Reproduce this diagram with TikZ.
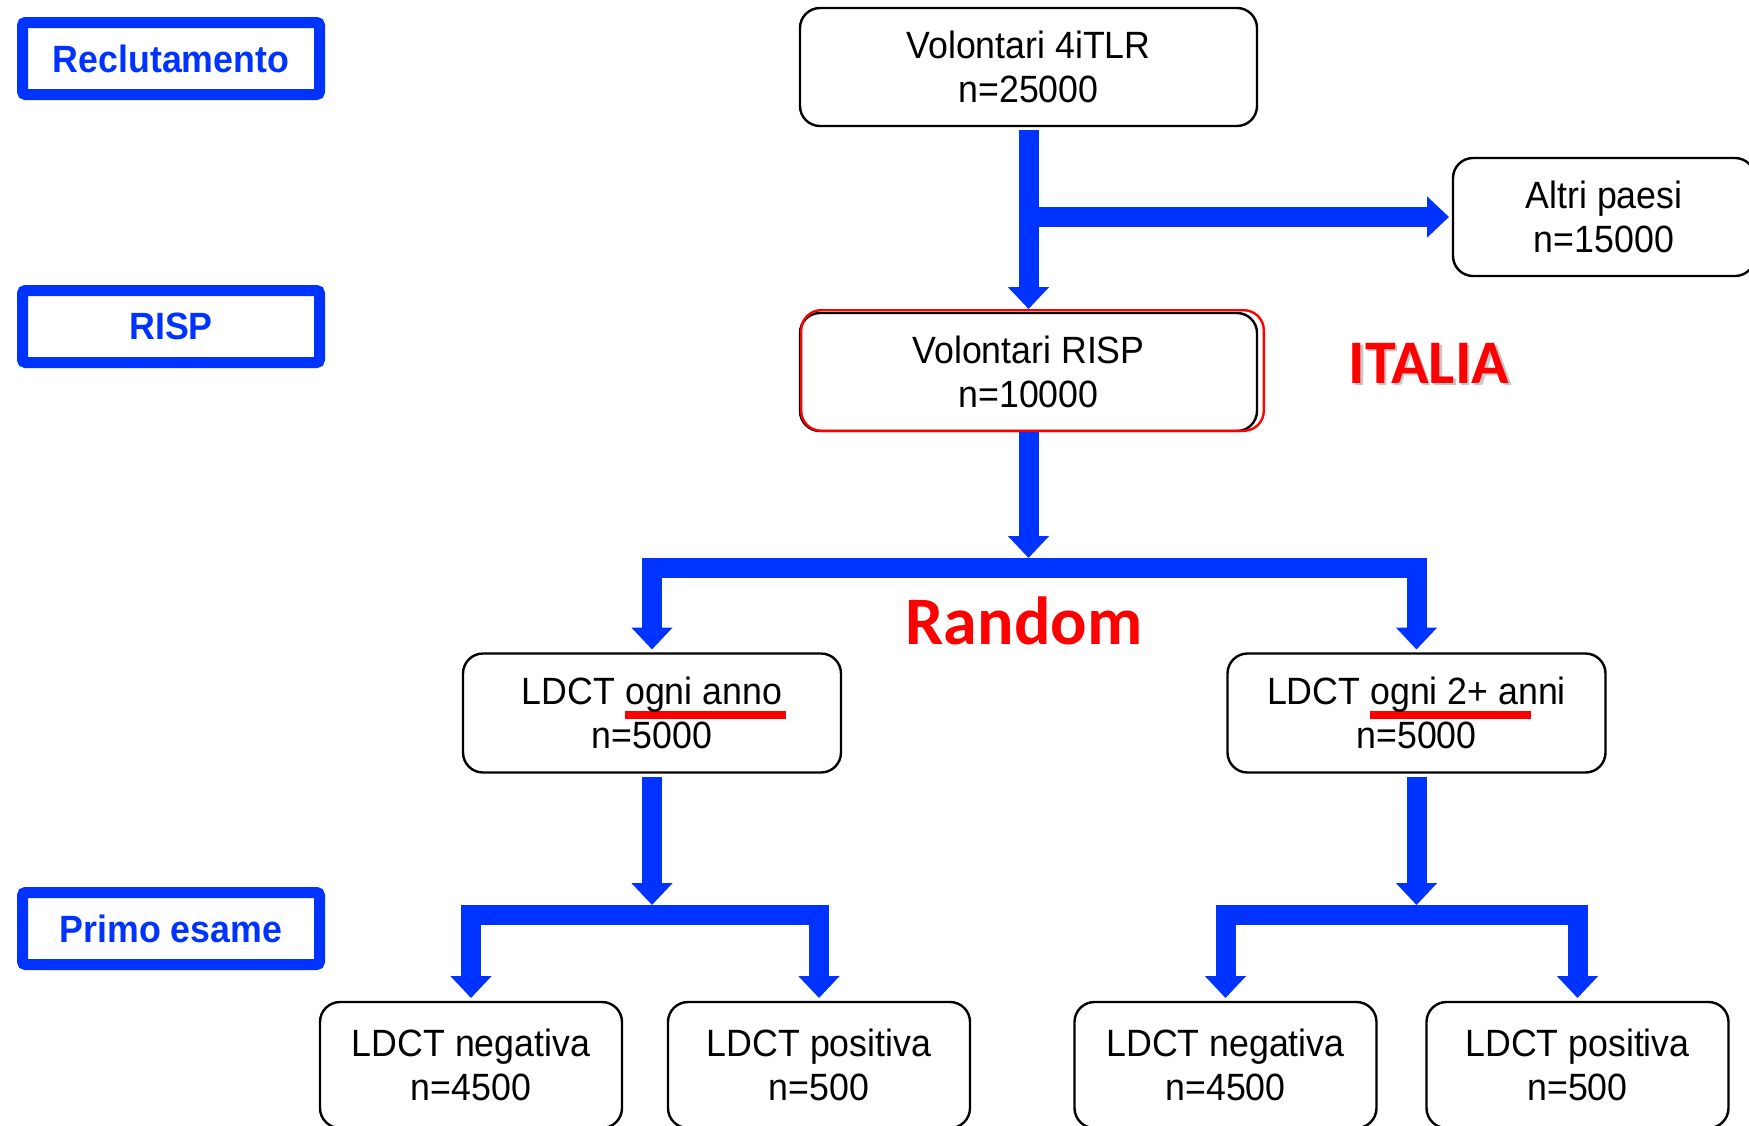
\documentclass[tikz,border=0pt]{standalone}
\usepackage{fontspec}
\setmainfont{Liberation Sans}
\newfontfamily\boxfont[FakeStretch=0.94]{Liberation Sans}
\newfontfamily\calfont{Carlito}
\usetikzlibrary{arrows.meta}
\definecolor{flowblue}{RGB}{0,51,255}
\definecolor{flowred}{RGB}{255,0,0}
\newcommand{\redul}{\leavevmode\rlap{\color{flowred}\rule[-7pt]{80.5pt}{4pt}}}
\tikzset{
  flowtip/.tip={Triangle[width=20pt,length=11pt]},
  box/.style={draw=black, line width=1.2pt, rounded corners=10pt,
    minimum width=228.5pt, minimum height=59pt, align=center,
    font=\boxfont\fontsize{19}{22}\selectfont, inner sep=0pt, outer sep=2pt},
  smallbox/.style={box, minimum width=189pt, minimum height=59.5pt},
  leafbox/.style={box, minimum width=151pt, minimum height=63pt},
  stage/.style={draw=flowblue, line width=5.5pt, rounded corners=1.5pt,
    minimum width=148.5pt, minimum height=36pt, inner sep=0pt,
    font=\boxfont\bfseries\fontsize{19}{22}\selectfont, text=flowblue},
  flow/.style={draw=flowblue, line width=10pt},
  bigred/.style={font=\calfont\bfseries\fontsize{#1}{#1}\selectfont, text=flowred, anchor=base, inner sep=0pt},
}
\begin{document}
\begin{tikzpicture}[x=0.5pt,y=-0.5pt]
\useasboundingbox (0,0) rectangle (1749,1125);
% stage labels
\node[stage] (recl) at (171,58.5) {Reclutamento};
\node[stage] (risp) at (171,326.5) {RISP};
\node[stage] (primo) at (171,928.5) {Primo esame};
% boxes
\node[box] (v4) at (1028.5,67) {Volontari 4iTLR\\n=25000};
\node[box, minimum width=151pt] (altri) at (1604,217) {Altri paesi\\n=15000};
\node[box] (vrisp) at (1028.5,372) {Volontari RISP\\n=10000};
\node[draw=flowred, line width=1.2pt, rounded corners=10pt, minimum width=231.3pt,
      minimum height=60.3pt, inner sep=0pt] (vrispred) at (1032.5,370.5) {};
\node[smallbox] (anno) at (652,713) {LDCT \redul ogni anno\\n=5000};
\node[smallbox] (anni) at (1416.5,713) {LDCT \redul ogni 2+ anni\\n=5000};
\node[leafbox] (b1) at (471,1065) {LDCT negativa\\n=4500};
\node[leafbox] (b2) at (819,1065) {LDCT positiva\\n=500};
\node[leafbox] (b3) at (1225.5,1065) {LDCT negativa\\n=4500};
\node[leafbox] (b4) at (1577.5,1065) {LDCT positiva\\n=500};
% red labels
\node[bigred=31, text=gray!45] (italiashadow) at (1431.5,385.5) {ITALIA};
\node[bigred=31] (italia) at (1429,383) {ITALIA};
\node[bigred=34] (random) at (1024,644) {Random};
% connectors
\coordinate (split) at (1028.5,217);
\draw[flow, arrows={-flowtip}] (v4.south) -- (vrisp.north);
\draw[flow, arrows={-flowtip}] (split) -- (altri.west);
\coordinate (bigbar) at (1028.5,568);
\draw[flow, arrows={-flowtip}] (vrispred.south -| vrisp.south) -- ([yshift=5pt]bigbar);
\draw[flow, miter limit=10, arrows={flowtip-flowtip}] (anno.north) |- (bigbar) -| (anni.north);
\coordinate (lbar) at (652,915);
\coordinate (rbar) at (1416.5,915);
\draw[flow, arrows={-flowtip}] (anno.south) -- ([yshift=5pt]lbar);
\draw[flow, arrows={-flowtip}] (anni.south) -- ([yshift=5pt]rbar);
\draw[flow, arrows={flowtip-flowtip}] (b1.north) |- (lbar) -| (b2.north);
\draw[flow, arrows={flowtip-flowtip}] (b3.north) |- (rbar) -| (b4.north);
\end{tikzpicture}
\end{document}
